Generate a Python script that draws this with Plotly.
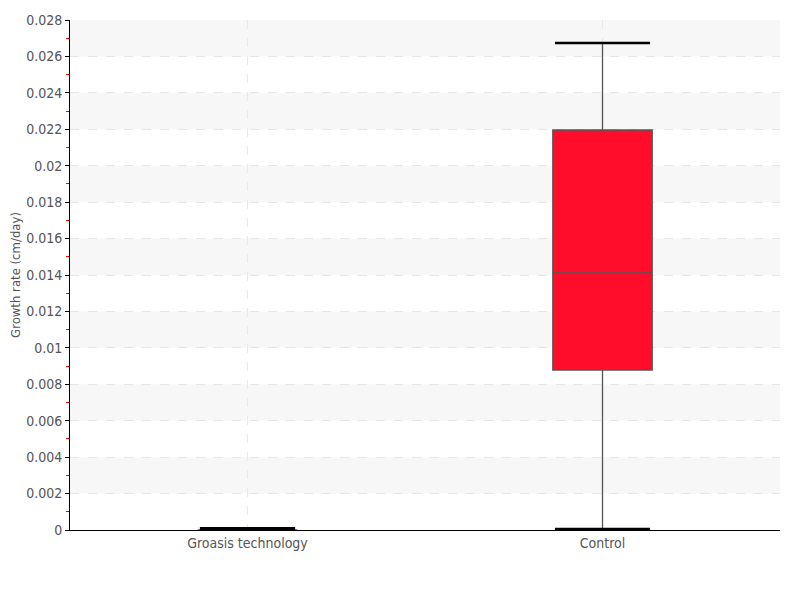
import plotly.graph_objects as go

# Data
categories = ["Groasis technology", "Control"]
q1 = [0.0, 0.00878]
median = [0.0, 0.01411]
q3 = [0.0, 0.02196]
lower = [0.0, 0.00005]
upper = [0.0, 0.02674]
fills = ["#ff0d2a", "#ff0d2a"]

yticks = [0, 0.002, 0.004, 0.006, 0.008, 0.01, 0.012, 0.014, 0.016, 0.018,
          0.02, 0.022, 0.024, 0.026, 0.028]
yticklabels = ["0", "0.002", "0.004", "0.006", "0.008", "0.01", "0.012", "0.014",
               "0.016", "0.018", "0.02", "0.022", "0.024", "0.026", "0.028"]

FONT = "DejaVu Sans Condensed, DejaVu Sans, sans-serif"
box_w = 0.28
cap_w = 0.268

fig = go.Figure()
for i, cat in enumerate(categories):
    fig.add_trace(go.Box(
        x=[i], q1=[q1[i]], median=[median[i]], q3=[q3[i]],
        lowerfence=[lower[i]], upperfence=[upper[i]],
        width=box_w, whiskerwidth=0,
        fillcolor=fills[i],
        line=dict(color="#555555", width=1.3),
        name=cat, showlegend=False, hoverinfo="skip",
    ))
    # black whisker caps (lines at the axis edge are half clipped, so go thicker there)
    for yv in (lower[i], upper[i]):
        fig.add_trace(go.Scatter(
            x=[i - cap_w / 2, i + cap_w / 2], y=[yv, yv], mode="lines",
            line=dict(color="black", width=6 if q3[i] == q1[i] else 2.5),
            showlegend=False, hoverinfo="skip",
        ))

# alternating shaded bands
shapes = []
for k in range(1, len(yticks) - 1, 2):
    shapes.append(dict(type="rect", xref="paper", yref="y", x0=0, x1=1,
                       y0=yticks[k], y1=yticks[k + 1], fillcolor="#f7f7f7",
                       line=dict(width=0), layer="below"))

# page body adds an 8px offset, so margins are shifted to compensate
fig.update_layout(
    width=800, height=600,
    margin=dict(l=62, r=28, t=12, b=78),
    plot_bgcolor="white", paper_bgcolor="white",
    font=dict(family=FONT, color="#555555", size=13),
    shapes=shapes,
    xaxis=dict(
        range=[-0.5, 1.5], tickvals=[0, 1], ticktext=categories,
        showline=True, linecolor="black", linewidth=1, ticks="",
        showgrid=True, gridcolor="#e8e8e8", griddash="dash", zeroline=False,
        tickfont=dict(size=14, color="#555555"),
        ticklabelstandoff=0,
        automargin=False,
    ),
    yaxis=dict(
        range=[0, 0.028], tickvals=yticks, ticktext=yticklabels,
        showline=True, linecolor="black", linewidth=1,
        ticks="outside", ticklen=4, tickcolor="black",
        showgrid=True, gridcolor="#e6e6e6", griddash="dash", zeroline=False,
        tickfont=dict(size=14, color="#555555"),
        title=dict(text="Growth rate (cm/day)",
                   font=dict(size=13, color="#555555"), standoff=4),
        minor=dict(ticks="outside", ticklen=3, tickcolor="red", dtick=0.001, showgrid=False),
        automargin=False,
    ),
)

fig.write_html("out.html")
